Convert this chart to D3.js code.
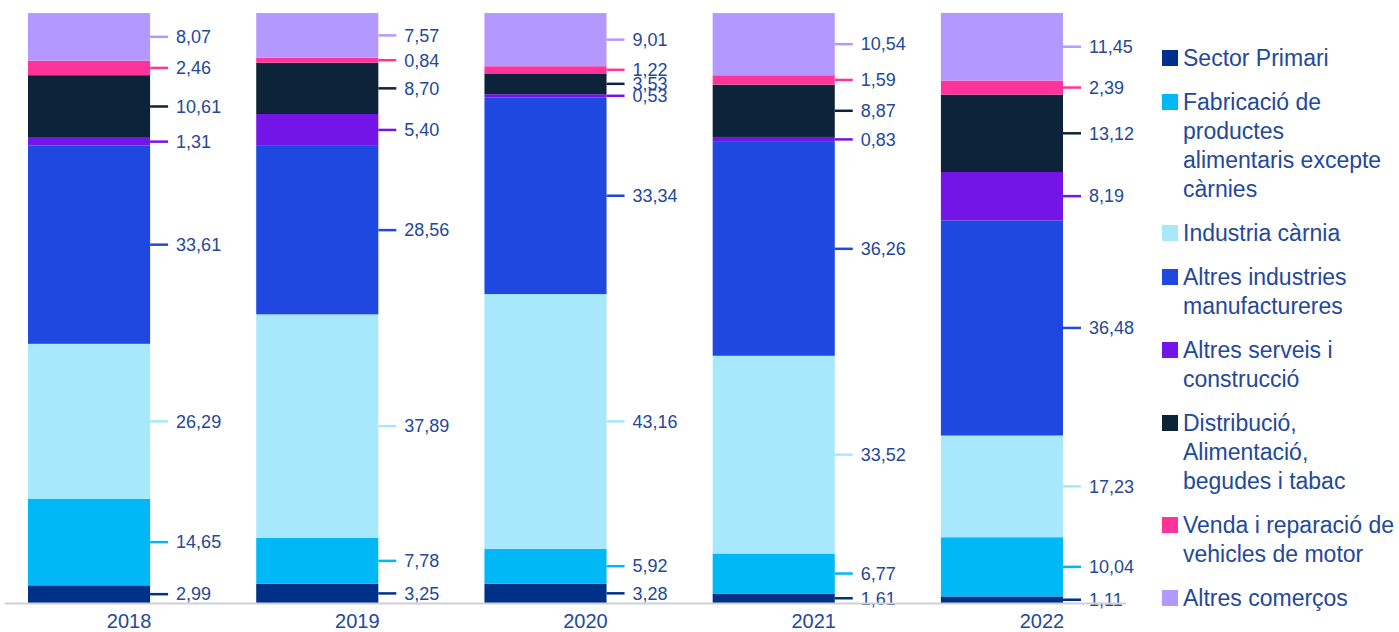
<!DOCTYPE html>
<html>
<head>
<meta charset="utf-8">
<script src="https://cdn.jsdelivr.net/npm/d3@7"></script>
<style>
	body { margin: 0; background: #fff; }
	svg text { font-family: "Liberation Sans", Arial, sans-serif; fill: #24489a; }
</style>
</head>
<body>
<svg width="1399" height="632"></svg>
<script>
'use strict';

// Categories (bottom of the stack first, same order as the legend)
var years = ['2018', '2019', '2020', '2021', '2022'];
var sectors = [
	'Sector Primari',
	'Fabricació de productes alimentaris excepte càrnies',
	'Industria càrnia',
	'Altres industries manufactureres',
	'Altres serveis i construcció',
	'Distribució, Alimentació, begudes i tabac',
	'Venda i reparació de vehicles de motor',
	'Altres comerços'
];
// legend text, already broken into lines
var legendLines = [
	['Sector Primari'],
	['Fabricació de', 'productes', 'alimentaris excepte', 'càrnies'],
	['Industria càrnia'],
	['Altres industries', 'manufactureres'],
	['Altres serveis i', 'construcció'],
	['Distribució,', 'Alimentació,', 'begudes i tabac'],
	['Venda i reparació de', 'vehicles de motor'],
	['Altres comerços']
];
var colors = ['#003189', '#00b8f5', '#a8e8fd', '#1e48e0', '#7315e6', '#0d2339', '#ff3399', '#b399ff'];

// Percentages per sector, one value per year
var sectorPrimari   = [2.99, 3.25, 3.28, 1.61, 1.11];
var fabricacio      = [14.65, 7.78, 5.92, 6.77, 10.04];
var industriaCarnia = [26.29, 37.89, 43.16, 33.52, 17.23];
var altresIndustries = [33.61, 28.56, 33.34, 36.26, 36.48];
var altresServeis   = [1.31, 5.40, 0.53, 0.83, 8.19];
var distribucio     = [10.61, 8.70, 3.53, 8.87, 13.12];
var vendaVehicles   = [2.46, 0.84, 1.22, 1.59, 2.39];
var altresComercos  = [8.07, 7.57, 9.01, 10.54, 11.45];

var seriesValues = [sectorPrimari, fabricacio, industriaCarnia, altresIndustries,
	altresServeis, distribucio, vendaVehicles, altresComercos];

/**
 * Build the table d3.stack wants: one row per year, one key per sector
 */
var table = years.map(function (y, i) {
	var row = { year: y };
	sectors.forEach(function (s, j) {
		row[s] = seriesValues[j][i];
	});
	return row;
});

var svg = d3.select('svg');

var x = d3.scaleBand()
	.domain(years)
	.range([28, 1063])
	.paddingInner(0.465)
	.paddingOuter(0);

var y = d3.scaleLinear()
	.domain([0, 100])
	.range([603, 13]);

var colorScale = d3.scaleOrdinal().domain(sectors).range(colors);

var stacked = d3.stack().keys(sectors)(table);

// bars
var layers = svg.append('g').attr('class', 'bars')
	.selectAll('g')
	.data(stacked)
	.enter()
		.append('g')
		.attr('fill', function (d) { return colorScale(d.key); });

layers.selectAll('rect')
	.data(function (d) { return d; })
	.enter()
		.append('rect')
		.attr('x', function (d) { return x(d.data.year); })
		.attr('width', x.bandwidth())
		.attr('y', function (d) { return y(d[1]); })
		.attr('height', function (d) { return y(d[0]) - y(d[1]); });

// value labels with a small coloured tick
var labels = svg.append('g').attr('class', 'labels');
stacked.forEach(function (layer) {
	layer.forEach(function (d) {
		var xr = x(d.data.year) + x.bandwidth();
		var ym = (y(d[0]) + y(d[1])) / 2;
		labels.append('line')
			.attr('x1', xr)
			.attr('x2', xr + 18)
			.attr('y1', ym)
			.attr('y2', ym)
			.attr('stroke', colorScale(layer.key))
			.attr('stroke-width', 2.5);
		labels.append('text')
			.attr('x', xr + 26)
			.attr('y', ym)
			.attr('dy', '0.35em')
			.style('font-size', '18px')
			.text(d3.format('.2f')(d.data[layer.key]).replace('.', ','));
	});
});

// baseline
svg.append('line')
	.attr('x1', 5)
	.attr('x2', 1126)
	.attr('y1', y(0) + 0.5)
	.attr('y2', y(0) + 0.5)
	.attr('stroke', '#d0d0d0')
	.attr('stroke-width', 2);

// year labels (centred under bar + its value labels)
svg.append('g').attr('class', 'years')
	.selectAll('text')
	.data(years)
	.enter()
		.append('text')
		.attr('x', function (d) { return x(d) + x.bandwidth() / 2 + 40; })
		.attr('y', 628)
		.attr('text-anchor', 'middle')
		.style('font-size', '20px')
		.text(function (d) { return d; });

// legend
var legend = svg.append('g').attr('class', 'legend');
var ly = 58;
legendLines.forEach(function (lines, i) {
	legend.append('rect')
		.attr('x', 1162)
		.attr('y', ly - 8)
		.attr('width', 16)
		.attr('height', 16)
		.attr('fill', colors[i]);
	var t = legend.append('text')
		.style('font-size', '23px');
	lines.forEach(function (l, k) {
		t.append('tspan')
			.attr('x', 1183)
			.attr('y', ly + k * 29)
			.attr('dy', '0.35em')
			.text(l);
	});
	ly += (lines.length - 1) * 29 + 44;
});
</script>
</body>
</html>
